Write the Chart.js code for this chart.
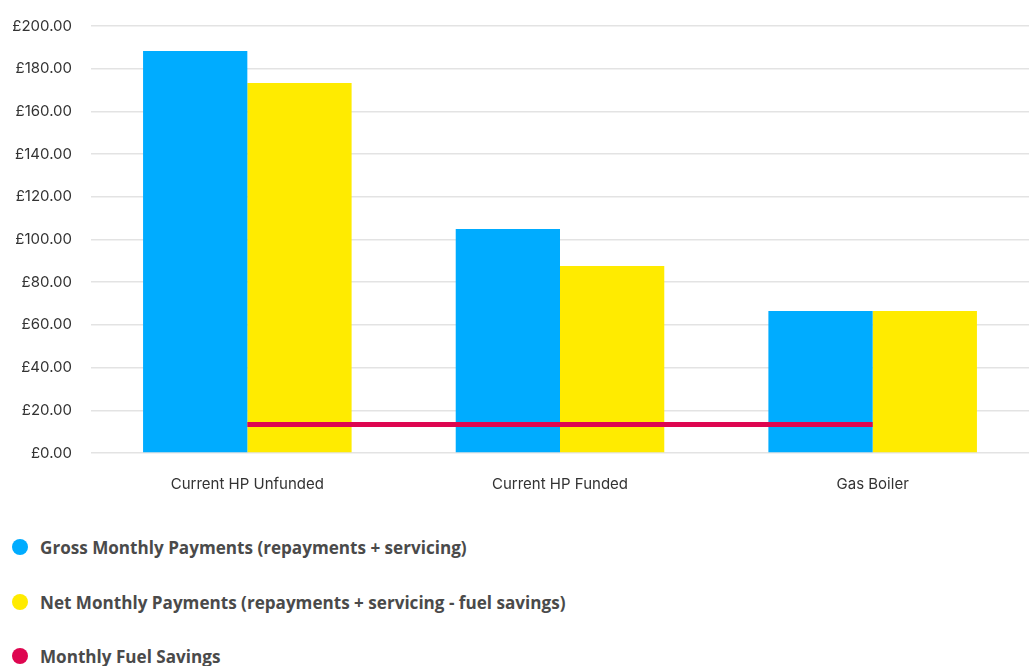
<!DOCTYPE html>
<html>
<head>
<meta charset="utf-8">
<script src="https://cdn.jsdelivr.net/npm/chart.js@4"></script>
<style>
  html, body { margin: 0; padding: 0; background: #fff; overflow: hidden; }
  #wrap { position: absolute; left: 0; top: -2px; width: 1035px; height: 517px; }
  #legend { position: absolute; left: 0; top: 520px; width: 1035px; font-family: "Open Sans", sans-serif; }
  .item { position: absolute; left: 12px; height: 20px; display: flex; align-items: center; font-weight: bold; font-size: 17.1px; color: #4a4a4a; white-space: nowrap; }
  .dot { width: 16px; height: 16px; border-radius: 50%; margin-right: 12px; flex: none; }
</style>
</head>
<body>
<div id="wrap"><canvas id="c"></canvas></div>
<div id="legend"></div>
<script>
const categories = ['Current HP Unfunded', 'Current HP Funded', 'Gas Boiler'];
const grossPayments = [188.3, 104.9, 66.5];
const netPayments = [173.3, 87.6, 66.5];
const fuelSavings = [13.3, 13.3, 13.3];
const seriesNames = [
  'Gross Monthly Payments (repayments + servicing)',
  'Net Monthly Payments (repayments + servicing - fuel savings)',
  'Monthly Fuel Savings'
];
const colors = ['#00acff', '#ffeb00', '#de0650'];

const FONT = 'Inter, sans-serif';

const chart = new Chart(document.getElementById('c'), {
  type: 'bar',
  data: {
    labels: categories,
    datasets: [
      { label: seriesNames[0], data: grossPayments, backgroundColor: colors[0], order: 1,
        categoryPercentage: 0.667, barPercentage: 1.0 },
      { label: seriesNames[1], data: netPayments, backgroundColor: colors[1], order: 2,
        categoryPercentage: 0.667, barPercentage: 1.0 },
      { type: 'line', label: seriesNames[2], data: fuelSavings, borderColor: colors[2],
        backgroundColor: colors[2], borderWidth: 5, pointRadius: 0, fill: false, order: 0 }
    ]
  },
  options: {
    responsive: true,
    maintainAspectRatio: false,
    animation: false,
    layout: { padding: { top: 12, right: 6, left: 0, bottom: 0 } },
    plugins: { legend: { display: false }, tooltip: { enabled: false } },
    scales: {
      x: {
        grid: { display: false, drawTicks: false },
        border: { display: false },
        ticks: { color: '#333', font: { family: FONT, size: 15 }, padding: 22 }
      },
      y: {
        min: 0, max: 200,
        grid: { color: '#e3e3e3', lineWidth: 1.5, drawTicks: false },
        border: { display: false },
        afterFit: s => { s.width = 91; },
        ticks: {
          stepSize: 20, color: '#333', padding: 19,
          font: { family: FONT, size: 15 },
          callback: v => '£' + Number(v).toFixed(2)
        }
      }
    }
  }
});

const legend = document.getElementById('legend');
const tops = [17, 72, 126];
chart.data.datasets.forEach((ds, i) => {
  const it = document.createElement('div');
  it.className = 'item';
  it.style.top = tops[i] + 'px';
  const d = document.createElement('span');
  d.className = 'dot';
  d.style.background = ds.backgroundColor;
  const t = document.createElement('span');
  t.textContent = ds.label;
  it.appendChild(d); it.appendChild(t);
  legend.appendChild(it);
});
</script>
</body>
</html>
